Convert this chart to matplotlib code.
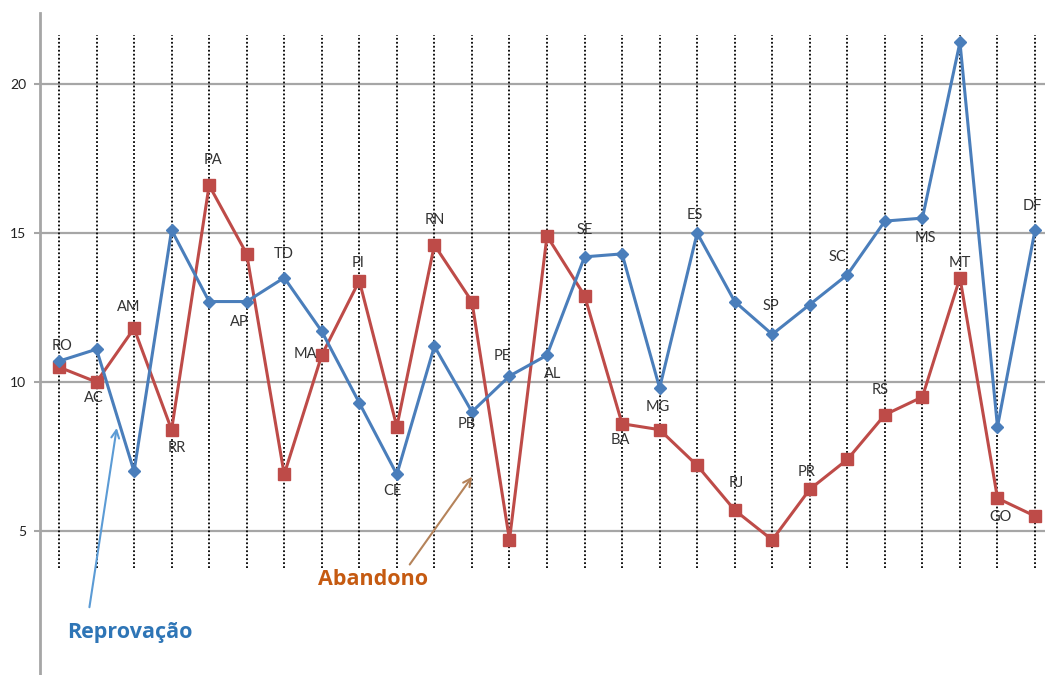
import matplotlib
matplotlib.use("Agg")
import matplotlib.pyplot as plt

# Rates per state (%): failure (Reprovação) and dropout (Abandono)
states = ["RO", "AC", "AM", "RR", "PA", "AP", "TD", "MA", "PI", "CE", "RN", "PB", "PE", "AL",
          "SE", "BA", "MG", "ES", "RJ", "SP", "PR", "SC", "RS", "MS", "MT", "GO", "DF"]
reprovacao = [10.7, 11.1, 7.0, 15.1, 12.7, 12.7, 13.5, 11.7, 9.3, 6.9, 11.2, 9.0, 10.2, 10.9,
              14.2, 14.3, 9.8, 15.0, 12.7, 11.6, 12.6, 13.6, 15.4, 15.5, 21.4, 8.5, 15.1]
abandono = [10.5, 10.0, 11.8, 8.4, 16.6, 14.3, 6.9, 10.9, 13.4, 8.5, 14.6, 12.7, 4.7, 14.9,
            12.9, 8.6, 8.4, 7.2, 5.7, 4.7, 6.4, 7.4, 8.9, 9.5, 13.5, 6.1, 5.5]
y_ticks = [0, 5, 10, 15, 20]

# label placement: which series the label sits on, and offset in pixels
label_pos = {
    "RO": ("r", 3, 15), "AC": ("a", -3, -16), "AM": ("a", -5, 21), "RR": ("a", 5, -18),
    "PA": ("a", 4, 25), "AP": ("r", -7, -20), "TD": ("r", 0, 24), "MA": ("a", -16, 1),
    "PI": ("a", -1, 18), "CE": ("r", -4, -17), "RN": ("a", 0, 25), "PB": ("r", -5, -12),
    "PE": ("r", -7, 20), "AL": ("r", 6, -19), "SE": ("r", 0, 27), "BA": ("a", -2, -16),
    "MG": ("r", -2, -19), "ES": ("r", -2, 18), "RJ": ("a", 2, 27), "SP": ("r", -1, 28),
    "PR": ("a", -3, 17), "SC": ("r", -10, 18), "RS": ("a", -5, 25), "MS": ("r", 3, -20),
    "MT": ("a", 0, 15), "GO": ("a", 3, -19), "DF": ("r", -3, 24),
}

BLUE = "#4A7EBB"
RED = "#BE4B48"
GRID = "#A6A6A6"

W, H = 1045, 675
fig = plt.figure(figsize=(W / 100, H / 100), dpi=100)
ax_left, ax_right = 40.2, 1053.8
y0_px, top_px = 680.0, 12.5
ax = fig.add_axes([ax_left / W, (H - y0_px) / H, (ax_right - ax_left) / W, (y0_px - top_px) / H])

x = list(range(len(states)))
ax.set_xlim(-0.5, len(states) - 0.5)
ax.set_ylim(0, 22.4)

# horizontal gridlines
for t in y_ticks:
    ax.axhline(t, color=GRID, lw=1.6, zorder=1)

# dotted vertical guides at each state
ax.vlines(x, 3.75, 21.65, colors="black", linestyles=(0, (1, 1.2)), lw=1.3, zorder=2)

ax.plot(x, reprovacao, color=BLUE, lw=2.2, marker="D", ms=6, mfc=BLUE, mec=BLUE, zorder=4)
ax.plot(x, abandono, color=RED, lw=2.2, marker="s", ms=8, mfc=RED, mec=RED, zorder=3)

for i, s in enumerate(states):
    ser, dx, dy = label_pos[s]
    yv = reprovacao[i] if ser == "r" else abandono[i]
    ax.annotate(s, (i, yv), xytext=(dx, dy), textcoords="offset pixels",
                ha="center", va="center", fontsize=10.5, family="Lato", color="#333333",
                zorder=6)

# axis styling
for sp in ["top", "right", "bottom"]:
    ax.spines[sp].set_visible(False)
ax.spines["left"].set_color(GRID)
ax.spines["left"].set_linewidth(2)
ax.set_yticks(y_ticks)
ax.set_yticklabels([str(t) for t in y_ticks], family="Lato", fontsize=10, color="#222222")
ax.tick_params(axis="y", length=4, width=1.5, color=GRID, pad=6)
ax.set_xticks([])

# callouts
ax.annotate("", xy=(1.55, 8.55), xytext=(0.8, 2.35),
            arrowprops=dict(arrowstyle="->", color="#5B9BD5", lw=1.5, mutation_scale=14))
ax.text(1.89, 1.58, "Reprovação", ha="center", va="center", fontsize=15.5, fontweight="bold",
        family="Open Sans", color="#2E75B6")
ax.annotate("", xy=(11.05, 6.9), xytext=(9.3, 3.8),
            arrowprops=dict(arrowstyle="->", color="#B5835A", lw=1.5, mutation_scale=14))
ax.text(8.36, 3.36, "Abandono", ha="center", va="center", fontsize=15.5, fontweight="bold",
        family="Open Sans", color="#C55A11")

fig.savefig("out.png", dpi=100)
